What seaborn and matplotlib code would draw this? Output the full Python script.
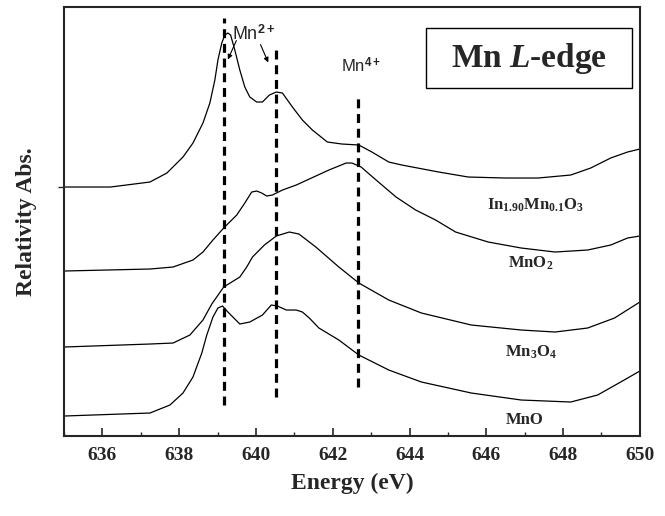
import numpy as np
import pandas as pd
import matplotlib
matplotlib.use("Agg")
import matplotlib.pyplot as plt
import seaborn as sns
from matplotlib.patches import Rectangle

# Spectra (energy in eV, intensity in arbitrary units, offset stacked)
e_in = [635.0, 636.21, 637.24, 637.68, 638.10, 638.36, 638.62, 638.80, 638.93, 639.01, 639.11,
        639.19, 639.27, 639.34, 639.45, 639.58, 639.71, 639.84, 640.02, 640.17, 640.35, 640.53,
        640.69, 640.95, 641.21, 641.47, 641.86, 642.24, 642.68, 643.02, 643.46, 643.80, 644.76,
        645.53, 646.49, 647.35, 648.20, 648.72, 649.24, 649.68, 650.0]
i_in = [249, 249, 254, 263, 279, 293, 313, 333, 356, 376, 393,
        401, 403, 401, 386, 366, 349, 339, 334, 334, 341, 344,
        343, 329, 316, 306, 294, 292, 291, 284, 274, 271, 264,
        259, 258, 258, 261, 268, 278, 284, 287]

e_mno2 = [635.0, 637.24, 637.84, 638.36, 638.62, 638.88, 639.16, 639.50, 639.71, 639.89, 640.02,
          640.15, 640.28, 640.43, 640.69, 641.05, 641.39, 641.90, 642.35, 642.50, 642.74, 643.13,
          643.65, 644.16, 644.68, 645.20, 646.05, 646.91, 647.79, 648.64, 649.24, 649.68, 650.0]
i_mno2 = [165, 167, 169, 176, 184, 196, 208, 221, 233, 244, 245,
          243, 240, 241, 246, 251, 257, 266, 273, 273, 269, 256,
          239, 226, 216, 204, 194, 188, 184, 186, 191, 198, 200]

e_mn3o4 = [635.0, 637.24, 637.84, 638.28, 638.62, 638.85, 639.16, 639.58, 639.76, 639.91, 640.22,
           640.53, 640.87, 641.12, 641.56, 642.16, 642.68, 643.46, 644.31, 645.61, 646.91, 647.79,
           648.64, 649.34, 650.0]
i_mn3o4 = [89, 92, 93, 101, 116, 132, 149, 159, 169, 179, 191,
           200, 204, 202, 189, 169, 153, 136, 123, 111, 106, 104,
           108, 118, 134]

e_mno = [635.0, 637.24, 637.76, 638.10, 638.36, 638.59, 638.72, 638.88, 639.01, 639.13, 639.27,
         639.58, 639.84, 640.17, 640.40, 640.56, 640.79, 641.05, 641.21, 641.39, 641.64, 642.16,
         642.68, 643.46, 644.31, 645.61, 646.91, 648.20, 648.90, 649.50, 650.0]
i_mno = [20, 23, 31, 43, 59, 83, 101, 119, 128, 130, 124,
         112, 114, 121, 131, 130, 126, 126, 124, 118, 108, 96,
         81, 66, 54, 43, 36, 34, 41, 54, 65]

# Marker lines for Mn2+ / Mn4+ (energy, bottom, top)
line_e = [639.16, 640.52, 642.66]
line_lo = [31, 39, 49]
line_hi = [418, 389, 341]

names = ["In", "MnO2", "Mn3O4", "MnO"]
labels = [r"In$_{\mathbf{1.90}}$Mn$_{\mathbf{0.1}}$O$_{\mathbf{3}}$",
          r"MnO$_{\mathbf{2}}$", r"Mn$_{\mathbf{3}}$O$_{\mathbf{4}}$", "MnO"]
label_e = [647.27, 647.16, 647.16, 647.0]
label_i = [231, 173, 84, 16]

frames = []
for n, e, i in zip(names, [e_in, e_mno2, e_mn3o4, e_mno], [i_in, i_mno2, i_mn3o4, i_mno]):
    frames.append(pd.DataFrame({"Energy": e, "Intensity": i, "sample": n}))
df = pd.concat(frames)

sns.set_style("ticks")
plt.rcParams["font.family"] = ["Liberation Serif", "DejaVu Serif"]
plt.rcParams["font.weight"] = "bold"
plt.rcParams["mathtext.fontset"] = "custom"
plt.rcParams["mathtext.rm"] = "Liberation Serif:bold"
plt.rcParams["mathtext.bf"] = "Liberation Serif:bold"
plt.rcParams["mathtext.it"] = "Liberation Serif:italic:bold"
plt.rcParams["mathtext.sf"] = "Liberation Sans"

fig = plt.figure(figsize=(6.65, 5.16), dpi=100)
ax = fig.add_axes([0.0962, 0.155, 0.866, 0.8314])

sns.lineplot(data=df, x="Energy", y="Intensity", hue="sample", units="sample", estimator=None,
             palette={n: "black" for n in names}, linewidth=0.9, legend=False, ax=ax)

for x, lo, hi in zip(line_e, line_lo, line_hi):
    ax.plot([x, x], [lo, hi], color="black", linewidth=2.3, linestyle=(0, (2.8, 1.8)))

for t, x, y in zip(labels, label_e, label_i):
    ax.text(x, y, t, ha="center", va="center", fontsize=12, fontweight="bold")

# title box
ax.add_patch(Rectangle((644.44, 348), 5.36, 60, fill=False, edgecolor="black", linewidth=1.0))
ax.text(647.12, 378, r"Mn $\mathit{L}$-edge", ha="center", va="center", fontsize=24,
        fontweight="bold")

ax.text(639.37, 396, r"Mn$^{\mathsf{2+}}$", ha="left", va="baseline", fontsize=13,
        family="Liberation Sans", fontweight="normal")
ax.text(642.22, 364, r"Mn$^{\mathsf{4+}}$", ha="left", va="baseline", fontsize=12,
        family="Liberation Sans", fontweight="normal")
ax.annotate("", xy=(639.24, 374), xytext=(639.52, 398),
            arrowprops=dict(arrowstyle="-|>", color="black", lw=0.8, mutation_scale=7))
ax.annotate("", xy=(640.35, 371), xytext=(640.09, 394),
            arrowprops=dict(arrowstyle="-|>", color="black", lw=0.8, mutation_scale=7))

ax.set_xlim(635, 650)
ax.set_ylim(0, 429)
ax.set_xticks(np.arange(636, 651, 2))
ax.set_xticks(np.arange(635, 651, 1), minor=True)
ax.tick_params(axis="x", which="major", direction="in", length=6, width=1.2, labelsize=14, pad=8)
ax.tick_params(axis="x", which="minor", direction="in", length=3, width=1.0)
ax.set_yticks([249])
ax.set_yticklabels([])
ax.tick_params(axis="y", direction="out", length=4, width=1.0)
for s in ax.spines.values():
    s.set_linewidth(1.5)
    s.set_visible(True)

ax.set_xlabel("Energy (eV)", fontsize=17, fontweight="bold", labelpad=6)
ax.set_ylabel("Relativity Abs.", fontsize=17, fontweight="bold", labelpad=12)

fig.savefig("out.png", dpi=100)
